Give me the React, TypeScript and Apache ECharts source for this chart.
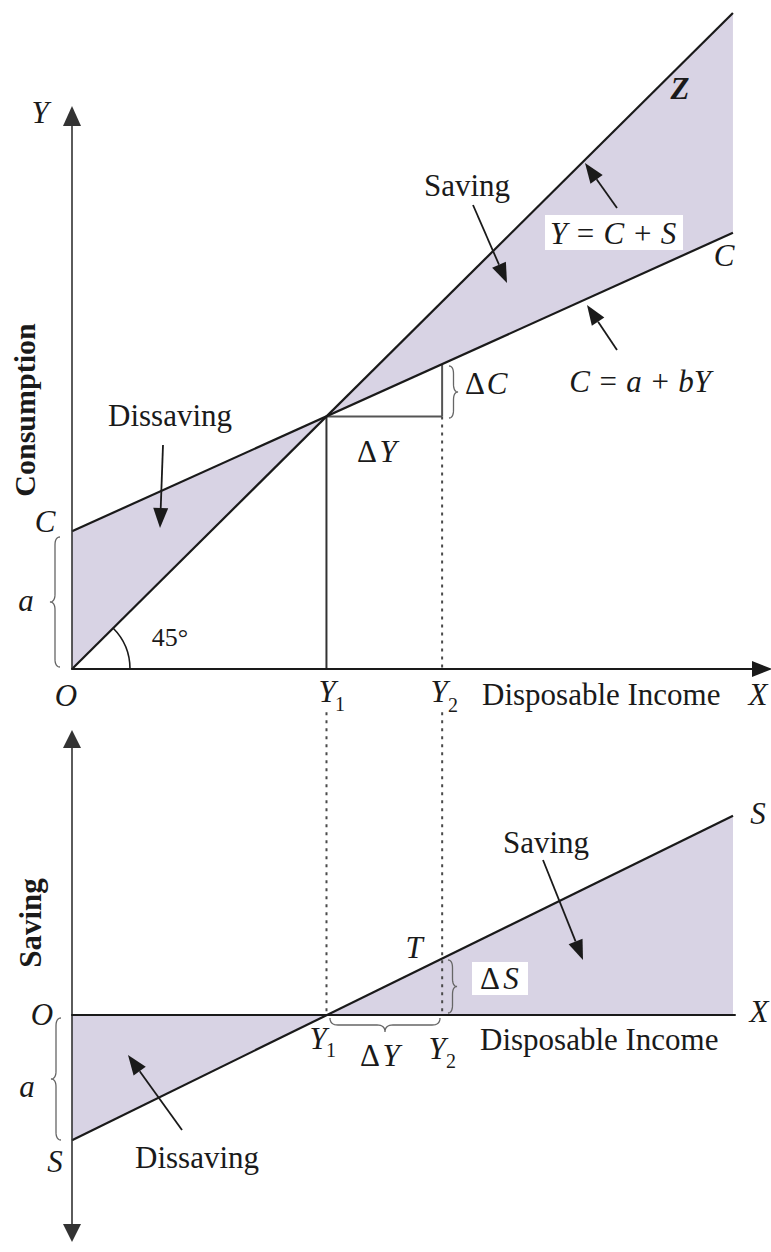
import React, { useEffect, useRef } from 'react';
import * as echarts from 'echarts';

// ---- data (in axis units) ----
const incomeLevels = [0, 38.5, 56, 100]; // O, Y1, Y2, right end of curves
const line45 = [0, 38.5, 56, 100]; // Y = C + S (45 degree line)
const consumption = [21, 38.5, 46.5, 66.5]; // C = a + bY
const saving = [-21, 0, 9.5, 33.5]; // S line
const dottedTopBottom = 50.9; // where the dotted guides start in the saving panel

const FILL = '#d8d3e4';
const INK = '#1a1a1a';
const GUIDE = '#4a4a4a';
const SERIF = '"Liberation Serif", "Times New Roman", serif';

function pts(ys: number[]) {
  return incomeLevels.map((x, i) => [x, ys[i]]);
}

function seg(grid: number, data: number[][], style: any, z = 3) {
  return {
    type: 'line',
    xAxisIndex: grid,
    yAxisIndex: grid,
    data,
    symbol: 'none',
    clip: false,
    silent: true,
    z,
    lineStyle: style,
  };
}

function txt(text: string, x: number, y: number, o: any = {}) {
  const size = o.size ?? 31;
  const font = `${o.italic ? 'italic ' : ''}${o.bold ? 'bold ' : ''}${size}px ${SERIF}`;
  const align = o.align ?? 'center';
  return {
    type: 'text',
    x,
    y,
    rotation: o.rotation ?? 0,
    z: 100,
    silent: true,
    style: {
      text,
      font,
      fill: INK,
      align,
      verticalAlign: 'middle',
      textAlign: align,
      textVerticalAlign: 'middle',
    },
  };
}

function arrow(x1: number, y1: number, x2: number, y2: number) {
  const L = 20;
  const W = 7.5;
  const dx = x2 - x1;
  const dy = y2 - y1;
  const len = Math.hypot(dx, dy);
  const ux = dx / len;
  const uy = dy / len;
  const bx = x2 - ux * L;
  const by = y2 - uy * L;
  const px = -uy * W;
  const py = ux * W;
  return [
    { type: 'line', z: 100, silent: true, shape: { x1, y1, x2: bx, y2: by }, style: { stroke: INK, lineWidth: 1.8 } },
    {
      type: 'polygon',
      z: 100,
      silent: true,
      shape: { points: [[x2, y2], [bx + px, by + py], [bx - px, by - py]] },
      style: { fill: INK },
    },
  ];
}

function quad(p0: number[], c: number[], p1: number[], n = 8) {
  const out: number[][] = [];
  for (let k = 1; k <= n; k++) {
    const t = k / n;
    const a = (1 - t) * (1 - t);
    const b = 2 * (1 - t) * t;
    const d = t * t;
    out.push([a * p0[0] + b * c[0] + d * p1[0], a * p0[1] + b * c[1] + d * p1[1]]);
  }
  return out;
}

// brace along a line; vertical = true -> along y at x=c, else along x at y=c
function brace(c: number, s0: number, s1: number, dir: number, depth: number, vertical: boolean) {
  const sm = (s0 + s1) / 2;
  const q = Math.min(8, (s1 - s0) / 5);
  const cm = c + (dir * depth) / 2;
  const ct = c + dir * depth;
  const P = (s: number, cc: number) => (vertical ? [cc, s] : [s, cc]);
  let p: number[][] = [P(s0, c)];
  p = p.concat(quad(P(s0, c), P(s0, cm), P(s0 + q, cm)));
  p.push(P(sm - q, cm));
  p = p.concat(quad(P(sm - q, cm), P(sm, cm), P(sm, ct)));
  p = p.concat(quad(P(sm, ct), P(sm, cm), P(sm + q, cm)));
  p.push(P(s1 - q, cm));
  p = p.concat(quad(P(s1 - q, cm), P(s1, cm), P(s1, c)));
  return { type: 'polyline', z: 100, silent: true, shape: { points: p }, style: { stroke: '#666', lineWidth: 1.3, fill: null } };
}

const hiddenBits = {
  axisTick: { show: false },
  axisLabel: { show: false },
  splitLine: { show: false },
};

export default function App() {
  const ref = useRef<HTMLDivElement>(null);

  useEffect(() => {
    if (!ref.current) return;
    const chart = echarts.init(ref.current, null, { renderer: 'svg' });

    const topFill = {
      type: 'custom',
      xAxisIndex: 0,
      yAxisIndex: 0,
      coordinateSystem: 'cartesian2d',
      data: [[0, 0]],
      clip: false,
      silent: true,
      z: 1,
      renderItem: (_p: any, api: any) => {
        const c = (x: number, y: number) => api.coord([x, y]);
        const n = incomeLevels.length - 1;
        return {
          type: 'group',
          children: [
            {
              type: 'polygon',
              shape: {
                points: [
                  c(incomeLevels[0], line45[0]),
                  c(incomeLevels[0], consumption[0]),
                  c(incomeLevels[1], consumption[1]),
                ],
              },
              style: { fill: FILL },
            },
            {
              type: 'polygon',
              shape: {
                points: [
                  c(incomeLevels[1], consumption[1]),
                  c(incomeLevels[n], line45[n]),
                  c(incomeLevels[n], consumption[n]),
                ],
              },
              style: { fill: FILL },
            },
          ],
        };
      },
    };

    const Y1 = incomeLevels[1];
    const Y2 = incomeLevels[2];
    const C1 = consumption[1];
    const C2 = consumption[2];
    const dotted = { color: GUIDE, width: 2, type: [3, 5] };
    const solidGuide = { color: '#333', width: 2 };
    const mainLine = { color: INK, width: 2.2 };

    const graphics: any[] = [
      // top panel texts
      txt('Y', 40, 112, { italic: true }),
      txt('Consumption', 24, 410, { bold: true, size: 30, rotation: Math.PI / 2 }),
      txt('C', 45, 521, { italic: true }),
      txt('a', 26, 600, { italic: true }),
      txt('45°', 170, 637, { size: 26 }),
      txt('O', 66, 695, { italic: true }),
      txt('Y', 327, 691, { italic: true }),
      txt('1', 340, 704, { size: 20 }),
      txt('Y', 439, 691, { italic: true }),
      txt('2', 453, 705, { size: 20 }),
      txt('Disposable Income', 482, 694, { align: 'left' }),
      txt('X', 758, 694, { italic: true }),
      txt('Dissaving', 170, 415),
      txt('Δ', 367, 451),
      txt('Y', 388, 451, { italic: true }),
      txt('Δ', 475, 383),
      txt('C', 497, 383, { italic: true }),
      txt('Saving', 467, 185),
      { type: 'rect', z: 99, silent: true, shape: { x: 545, y: 215, width: 138, height: 35 }, style: { fill: '#fff' } },
      txt('Y = C + S', 613, 233, { italic: true }),
      txt('Z', 680, 88, { italic: true, bold: true }),
      txt('C', 724, 255, { italic: true }),
      txt('C = a + bY', 640, 381, { italic: true }),
      ...arrow(163, 445, 160, 528),
      ...arrow(473, 205, 507, 283),
      ...arrow(617, 208, 585, 163),
      ...arrow(617, 350, 587, 305),
      brace(60, 537, 667, -1, 10, true),
      brace(449, 366, 418, 1, 9, true),
      { type: 'arc', z: 100, silent: true, shape: { cx: 72, cy: 669, r: 58, startAngle: -Math.PI / 4, endAngle: 0, clockwise: true }, style: { stroke: INK, lineWidth: 1.6, fill: null } },
      // bottom panel texts
      txt('Saving', 30, 923, { bold: true, size: 31, rotation: Math.PI / 2 }),
      txt('O', 42, 1014, { italic: true }),
      txt('a', 27, 1086, { italic: true }),
      txt('S', 55, 1161, { italic: true }),
      txt('Dissaving', 197, 1157),
      txt('Y', 318, 1038, { italic: true }),
      txt('1', 331, 1050, { size: 20 }),
      txt('Δ', 370, 1055),
      txt('Y', 391, 1055, { italic: true }),
      txt('Y', 437, 1048, { italic: true }),
      txt('2', 451, 1061, { size: 20 }),
      txt('Disposable Income', 480, 1039, { align: 'left' }),
      txt('X', 759, 1011, { italic: true }),
      txt('S', 758, 813, { italic: true }),
      txt('T', 414, 947, { italic: true }),
      { type: 'rect', z: 99, silent: true, shape: { x: 472, y: 962, width: 56, height: 33 }, style: { fill: '#fff' } },
      txt('Δ', 490, 978),
      txt('S', 511, 978, { italic: true }),
      txt('Saving', 546, 842),
      ...arrow(182, 1130, 128, 1055),
      ...arrow(543, 860, 583, 960),
      brace(61, 1018, 1140, -1, 10, true),
      brace(448, 960, 1013, 1, 9, true),
      brace(1018, 330, 440, 1, 14, false),
    ];

    chart.setOption({
      animation: false,
      backgroundColor: '#fff',
      grid: [
        { left: 72, top: 116, width: 690, height: 553, outerBoundsMode: 'none', containLabel: false },
        { left: 72, top: 739, width: 663, height: 494, outerBoundsMode: 'none', containLabel: false },
      ],
      xAxis: [
        {
          type: 'value',
          gridIndex: 0,
          min: 0,
          max: 104.4,
          z: 5,
          axisLine: { show: true, symbol: ['none', 'triangle'], symbolSize: [16, 20], lineStyle: { color: INK, width: 2 } },
          ...hiddenBits,
        },
        {
          type: 'value',
          gridIndex: 1,
          min: 0,
          max: 100.3,
          z: 5,
          axisLine: { show: true, onZero: true, symbol: ['none', 'none'], lineStyle: { color: INK, width: 2 } },
          ...hiddenBits,
        },
      ],
      yAxis: [
        {
          type: 'value',
          gridIndex: 0,
          min: 0,
          max: 84.3,
          z: 5,
          axisLine: { show: true, symbol: ['none', 'triangle'], symbolSize: [18, 20], lineStyle: { color: '#333', width: 1.6 } },
          ...hiddenBits,
        },
        {
          type: 'value',
          gridIndex: 1,
          min: -36.6,
          max: 46.4,
          z: 5,
          axisLine: { show: true, symbol: ['triangle', 'triangle'], symbolSize: [18, 18], lineStyle: { color: '#333', width: 1.6 } },
          ...hiddenBits,
        },
      ],
      series: [
        topFill,
        seg(0, pts(line45).filter((_, i) => i === 0 || i === incomeLevels.length - 1), mainLine, 4),
        seg(0, pts(consumption).filter((_, i) => i === 0 || i === incomeLevels.length - 1), mainLine, 4),
        seg(0, [[Y1, 0], [Y1, C1]], solidGuide),
        seg(0, [[Y1, C1], [Y2, C1]], { color: '#555', width: 2 }),
        seg(0, [[Y2, C1], [Y2, C2]], { color: '#555', width: 2 }),
        seg(0, [[Y2, C1], [Y2, 0]], dotted),
        {
          type: 'line',
          xAxisIndex: 1,
          yAxisIndex: 1,
          data: pts(saving),
          symbol: 'none',
          silent: true,
          z: 2,
          lineStyle: { width: 0, opacity: 0 },
          areaStyle: { color: FILL, opacity: 1, origin: 0 },
        },
        seg(1, pts(saving).filter((_, i) => i === 0 || i === incomeLevels.length - 1), mainLine, 4),
        seg(1, [[Y1, dottedTopBottom], [Y1, 0]], dotted),
        seg(1, [[Y2, dottedTopBottom], [Y2, 0]], dotted),
      ],
      graphic: { elements: graphics },
    });

    return () => chart.dispose();
  }, []);

  return (
    <div
      ref={ref}
      style={{ position: 'absolute', left: 0, top: 0, width: 771, height: 1252, background: '#fff' }}
    />
  );
}
